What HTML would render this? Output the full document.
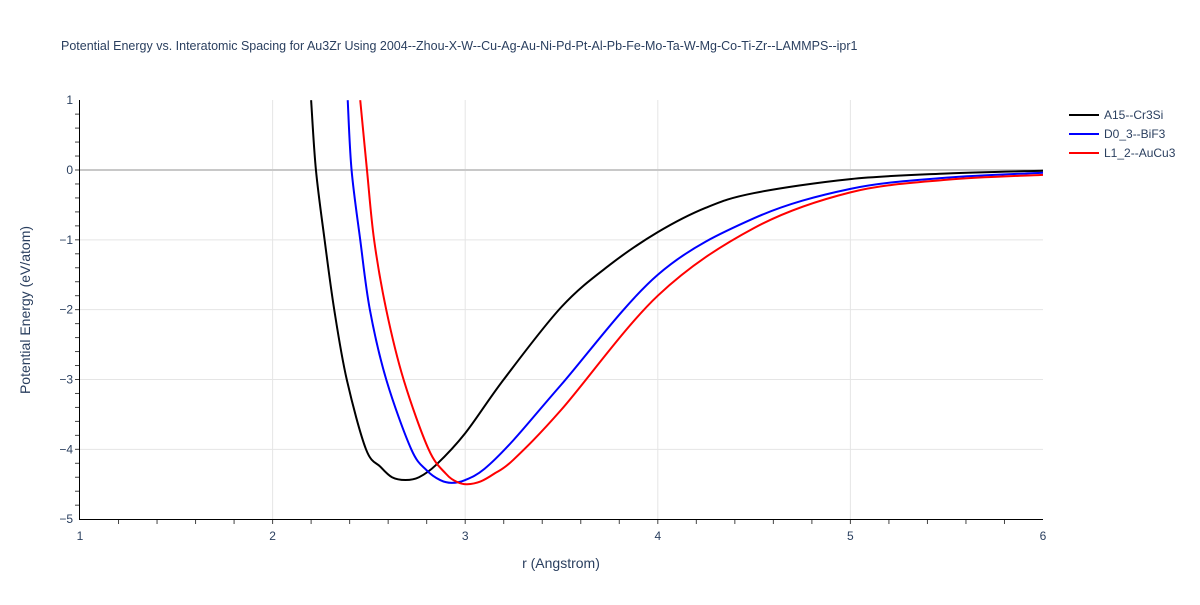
<!DOCTYPE html>
<html><head><meta charset="utf-8"><style>
body{margin:0;background:#fff;font-family:"Liberation Sans",sans-serif}
svg text{font-family:"Liberation Sans",sans-serif;fill:#2a3f5f}
</style></head><body>
<svg id="chart" width="1200" height="600" xmlns="http://www.w3.org/2000/svg">
<text x="61" y="50" font-size="12.5">Potential Energy vs. Interatomic Spacing for Au3Zr Using 2004--Zhou-X-W--Cu-Ag-Au-Ni-Pd-Pt-Al-Pb-Fe-Mo-Ta-W-Mg-Co-Ti-Zr--LAMMPS--ipr1</text>
<g id="grid"></g><g id="series"></g><g id="axes"></g><g id="legend"></g>
<text x="561" y="568" font-size="14" text-anchor="middle">r (Angstrom)</text>
<text transform="translate(30,310) rotate(-90)" font-size="14" text-anchor="middle">Potential Energy (eV/atom)</text>
</svg>
<script>
const xTicks=[1,2,3,4,5,6];
const yTicks=[1,0,-1,-2,-3,-4,-5];
const seriesNames=["A15--Cr3Si","D0_3--BiF3","L1_2--AuCu3"];
const seriesColors=["#000000","#0000ff","#ff0000"];
const rA15=[2.20,2.225,2.27,2.32,2.385,2.485,2.56,2.62,2.69,2.76,2.85,3.0,3.2,3.5,3.75,4.0,4.25,4.5,5.0,5.5,6.0];
const eA15=[1,0,-1,-2,-3,-4,-4.25,-4.4,-4.44,-4.4,-4.22,-3.77,-3.0,-1.96,-1.36,-0.89,-0.54,-0.33,-0.13,-0.05,-0.01];
const rD03=[2.39,2.41,2.455,2.505,2.59,2.72,2.8,2.87,2.93,3.0,3.1,3.25,3.5,4.0,4.5,5.0,5.5,6.0];
const eD03=[1,0,-1,-2,-3,-4,-4.3,-4.44,-4.48,-4.44,-4.28,-3.87,-3.07,-1.5,-0.69,-0.27,-0.11,-0.04];
const rL12=[2.455,2.49,2.527,2.59,2.68,2.81,2.9,2.96,3.01,3.08,3.15,3.25,3.5,4.0,4.5,5.0,5.5,6.0];
const eL12=[1,0,-1,-2,-3,-4,-4.35,-4.47,-4.5,-4.46,-4.35,-4.15,-3.43,-1.8,-0.83,-0.32,-0.14,-0.07];
const X=r=>80+(r-1)*192.6, Y=e=>170-e*69.83;
const NS="http://www.w3.org/2000/svg";
function mk(t,a,p){const el=document.createElementNS(NS,t);for(const k in a)el.setAttribute(k,a[k]);p.appendChild(el);return el;}
const grid=document.getElementById('grid'),axes=document.getElementById('axes'),ser=document.getElementById('series'),leg=document.getElementById('legend');
xTicks.forEach(v=>{if(v>1&&v<6){const l=mk('line',{x1:X(v),x2:X(v),y1:100,y2:519,stroke:'#e5e5e5'},grid);

}
const t=mk('text',{x:X(v),y:540,'font-size':12,'text-anchor':'middle'},axes);t.textContent=v;

});
for(let v=1.2;v<6;v+=0.2){mk('line',{x1:X(v),x2:X(v),y1:519,y2:524,stroke:'#444'},axes);}
yTicks.forEach(v=>{if(v<1&&v>-5){const l=mk('line',{x1:80,x2:1043,y1:Y(v),y2:Y(v),stroke:v==0?'#c8c8c8':'#e5e5e5','stroke-width':v==0?2:1},grid);

}
const t=mk('text',{x:73,y:Y(v)+4,'font-size':12,'text-anchor':'end'},axes);t.textContent=v<0?'\u2212'+(-v):v;

});
for(let v=-4.8;v<1;v+=0.2){mk('line',{x1:75,x2:80,y1:Y(v),y2:Y(v),stroke:'#444'},axes);}
mk('line',{x1:79.5,x2:79.5,y1:100,y2:520,stroke:'#000'},axes);
mk('line',{x1:79,x2:1043,y1:519.5,y2:519.5,stroke:'#000'},axes);
function path(rs,es){const p=rs.map((r,i)=>[X(r),Y(es[i])]);let d='M'+p[0][0]+','+p[0][1];
for(let i=0;i<p.length-1;i++){const p0=p[i-1]||p[i],p1=p[i],p2=p[i+1],p3=p[i+2]||p2;
d+=' C'+(p1[0]+(p2[0]-p0[0])/6)+','+(p1[1]+(p2[1]-p0[1])/6)+' '+(p2[0]-(p3[0]-p1[0])/6)+','+(p2[1]-(p3[1]-p1[1])/6)+' '+p2[0]+','+p2[1];}return d;}
const data=[[rA15,eA15],[rD03,eD03],[rL12,eL12]];
const cp=mk('clipPath',{id:'clip'},document.getElementById('chart'));mk('rect',{x:80,y:100,width:963,height:419},cp);
data.forEach((d,i)=>{const pl=mk('path',{d:path(d[0],d[1]),fill:'none',stroke:seriesColors[i],'stroke-width':2,'clip-path':'url(#clip)'},ser);


const g=mk('g',{},leg);


mk('line',{x1:1069,x2:1099,y1:115+i*19,y2:115+i*19,stroke:seriesColors[i],'stroke-width':2},g);
const t=mk('text',{x:1104,y:119+i*19,'font-size':12},g);t.textContent=seriesNames[i];});
</script>
</body></html>
